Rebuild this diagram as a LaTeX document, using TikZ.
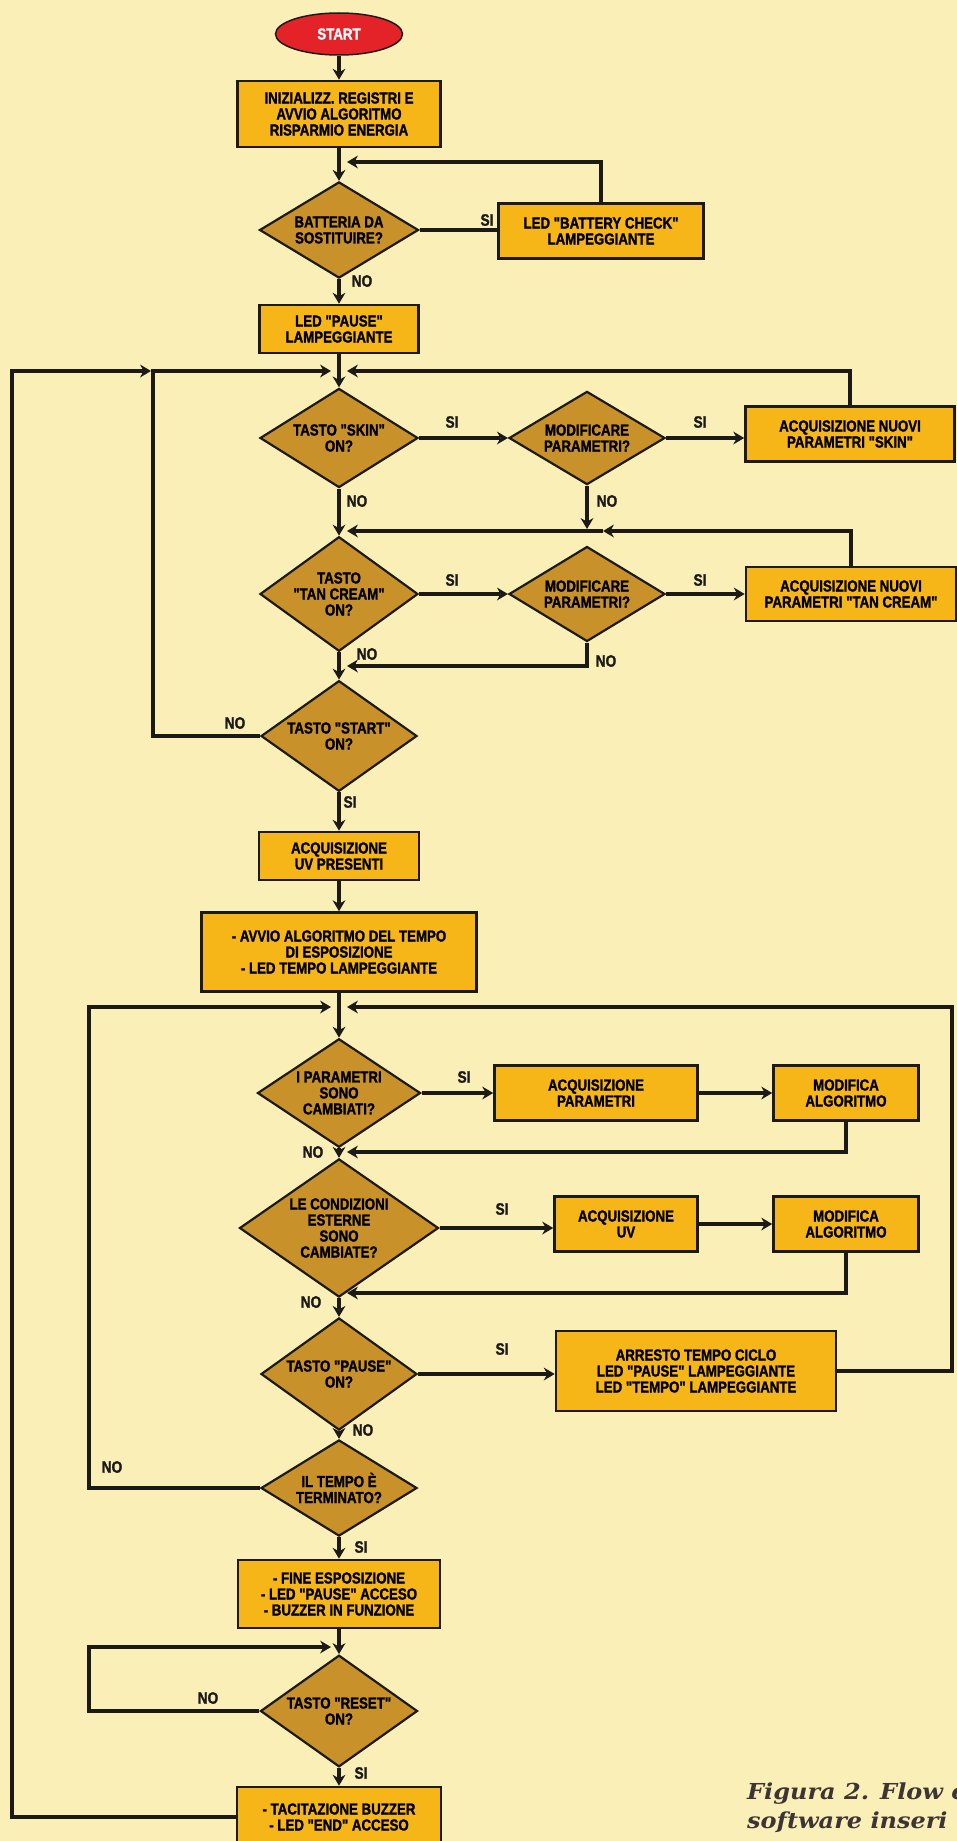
\documentclass[tikz,border=0pt]{standalone}
\usepackage{fontspec}
\newfontfamily\flowfont{Liberation Sans}[UprightFont={* Bold}, FakeStretch=0.83, FakeBold=1.4]
\newfontfamily\captionfont{DejaVu Serif}[FakeStretch=1.09]
\usepackage{tikz}
\usetikzlibrary{shapes,arrows.meta}
\definecolor{paper}{HTML}{FBEFB8}
\definecolor{boxorange}{HTML}{F7B618}
\definecolor{ochre}{HTML}{C8912A}
\definecolor{startred}{HTML}{E42329}
\definecolor{ink}{HTML}{1C1A17}
\definecolor{captiongray}{HTML}{3D3535}
\newcommand{\boxtext}{\flowfont\fontsize{16}{16}\selectfont}
\newcommand{\yesno}{\flowfont\fontsize{16.5}{16.5}\selectfont}
\tikzstyle{startstop} = [ellipse, draw=ink, line width=1.5pt, fill=startred, text=white, inner sep=0pt, minimum width=127pt, minimum height=42pt, font=\boxtext]
\tikzstyle{process} = [rectangle, draw=ink, line width=2.6pt, fill=boxorange, align=center, inner sep=0pt, font=\boxtext]
\tikzstyle{decision} = [diamond, draw=ink, line width=2.2pt, fill=ochre, align=center, inner sep=-5pt, font=\boxtext]
\tikzstyle{arrow} = [line width=3.8pt, draw=ink, -{Stealth[length=11pt,width=13pt,line width=0pt]}]
\tikzstyle{conn} = [line width=3.8pt, draw=ink]
\tikzstyle{yn} = [inner sep=0pt, font=\yesno, text=ink]

\begin{document}
\begin{tikzpicture}[x=1pt,y=-1pt]
\useasboundingbox (0,0) rectangle (957,1841);
\fill[paper] (0,0) rectangle (957,1841);

% main column
\node[startstop] (start) at (339,34) {START};
\node[process, minimum width=203pt, minimum height=66pt] (init) at (339,114) {INIZIALIZZ. REGISTRI E\\AVVIO ALGORITMO\\RISPARMIO ENERGIA};
\node[decision, minimum width=159pt, minimum height=94pt] (batt) at (339,230) {BATTERIA DA\\SOSTITUIRE?};
\node[process, minimum width=205pt, minimum height=55pt] (battchk) at (601,231) {LED "BATTERY CHECK"\\LAMPEGGIANTE};
\node[process, minimum width=159pt, minimum height=48pt] (ledpause) at (339,329) {LED "PAUSE"\\LAMPEGGIANTE};
\node[decision, minimum width=158pt, minimum height=93pt] (skin) at (339,438) {TASTO "SKIN"\\ON?};
\node[decision, minimum width=156pt, minimum height=93pt] (mod1) at (587,438) {MODIFICARE\\PARAMETRI?};
\node[process, minimum width=209pt, minimum height=55pt] (acqskin) at (850,434) {ACQUISIZIONE NUOVI\\PARAMETRI "SKIN"};
\node[decision, minimum width=158pt, minimum height=95pt] (tan) at (339,594) {TASTO\\"TAN CREAM"\\ON?};
\node[decision, minimum width=156pt, minimum height=95pt] (mod2) at (587,594) {MODIFICARE\\PARAMETRI?};
\node[process, minimum width=210pt, minimum height=54pt] (acqtan) at (851,594) {ACQUISIZIONE NUOVI\\PARAMETRI "TAN CREAM"};
\node[decision, minimum width=156pt, minimum height=94pt] (startq) at (339,736) {TASTO "START"\\ON?};
\node[process, minimum width=160pt, minimum height=48pt] (acquv) at (339,856) {ACQUISIZIONE\\UV PRESENTI};
\node[process, minimum width=275pt, minimum height=79pt] (avvio) at (339,952) {- AVVIO ALGORITMO DEL TEMPO\\DI ESPOSIZIONE\\- LED TEMPO LAMPEGGIANTE};
\node[decision, minimum width=163pt, minimum height=99pt] (par) at (339,1093) {I PARAMETRI\\SONO\\CAMBIATI?};
\node[process, minimum width=203pt, minimum height=55pt] (acqpar) at (596,1093) {ACQUISIZIONE\\PARAMETRI};
\node[process, minimum width=145pt, minimum height=55pt] (modalg1) at (846,1093) {MODIFICA\\ALGORITMO};
\node[decision, minimum width=199pt, minimum height=120pt] (cond) at (339,1228) {LE CONDIZIONI\\ESTERNE\\SONO\\CAMBIATE?};
\node[process, minimum width=143pt, minimum height=55pt] (acquv2) at (626,1224) {ACQUISIZIONE\\UV};
\node[process, minimum width=145pt, minimum height=55pt] (modalg2) at (846,1224) {MODIFICA\\ALGORITMO};
\node[decision, minimum width=156pt, minimum height=94pt] (pause) at (339,1374) {TASTO "PAUSE"\\ON?};
\node[process, minimum width=280pt, minimum height=80pt] (arresto) at (696,1371) {ARRESTO TEMPO CICLO\\LED "PAUSE" LAMPEGGIANTE\\LED "TEMPO" LAMPEGGIANTE};
\node[decision, minimum width=156pt, minimum height=93pt] (tempo) at (339,1488) {IL TEMPO È\\TERMINATO?};
\node[process, minimum width=202pt, minimum height=68pt] (fine) at (339,1594) {- FINE ESPOSIZIONE\\- LED "PAUSE" ACCESO\\- BUZZER IN FUNZIONE};
\node[decision, minimum width=157pt, minimum height=97pt] (reset) at (339,1711) {TASTO "RESET"\\ON?};
\node[process, minimum width=204pt, minimum height=60pt] (tacit) at (339,1817) {- TACITAZIONE BUZZER\\- LED "END" ACCESO};

% junction points
\coordinate (jbatt) at (347,162);
\coordinate (jskin) at (347,371);
\coordinate (jskinl) at (331,371);
\coordinate (outerc) at (12,371);
\coordinate (innerc) at (153,371);
\coordinate (innerl) at (151,371);
\coordinate (jmod1) at (587,529);
\coordinate (jtanmid) at (603,531);
\coordinate (jtan) at (347,531);
\coordinate (jmod2) at (347,666);
\coordinate (jtime) at (347,1007);
\coordinate (jtimel) at (331,1007);
\coordinate (pausec) at (952,1371);
\coordinate (timec) at (89,1007);
\coordinate (jpar) at (347,1152);
\coordinate (jcond) at (347,1293);
\coordinate (jreset) at (331,1647);
\coordinate (resetc) at (89,1647);

% connectors
\draw[arrow] (start) -- (init);
\draw[arrow] (init) -- (batt);
\draw[conn] (batt.east) -- (batt.east -| battchk.west);
\draw[arrow] (battchk.north) |- (jbatt);
\draw[arrow] (batt) -- (ledpause);
\draw[arrow] (ledpause) -- (skin);
\draw[arrow] (skin) -- (mod1);
\draw[arrow] (mod1.east) -- (mod1.east -| acqskin.west);
\draw[arrow] (acqskin.north) |- (jskin);
\draw[arrow] (skin) -- (tan);
\draw[arrow] (mod1.south) -- (jmod1);
\draw[arrow] (acqtan.north) |- (jtanmid);
\draw[arrow] (jtanmid) -- (jtan);
\draw[arrow] (tan) -- (mod2);
\draw[arrow] (mod2.east) -- (mod2.east -| acqtan.west);
\draw[arrow] (mod2.south) |- (jmod2);
\draw[arrow] (tan) -- (startq);
\draw[arrow] (startq.west) -| (innerc) -- (jskinl);
\draw[arrow] (tacit.west) -| (outerc) -- (innerl);
\draw[arrow] (startq) -- (acquv);
\draw[arrow] (acquv) -- (avvio);
\draw[arrow] (avvio) -- (par);
\draw[arrow] (par.east) -- (par.east -| acqpar.west);
\draw[arrow] (acqpar) -- (modalg1);
\draw[arrow] (modalg1.south) |- (jpar);
\draw[arrow] (par) -- (cond);
\draw[arrow] (cond.east) -- (cond.east -| acquv2.west);
\draw[arrow] (acquv2) -- (modalg2);
\draw[arrow] (modalg2.south) |- (jcond);
\draw[arrow] (cond) -- (pause);
\draw[arrow] (pause.east) -- (pause.east -| arresto.west);
\draw[arrow] (arresto.east) -- (pausec) |- (jtime);
\draw[arrow] (pause) -- (tempo);
\draw[arrow] (tempo.west) -| (timec) -- (jtimel);
\draw[arrow] (tempo) -- (fine);
\draw[arrow] (fine) -- (reset);
\draw[arrow] (reset.west) -| (resetc) -- (jreset);
\draw[arrow] (reset) -- (tacit);

% SI / NO
\node[yn] (si1) at (487,220) {SI};
\node[yn] (no1) at (362,281) {NO};
\node[yn] (si2) at (452,422) {SI};
\node[yn] (si3) at (700,422) {SI};
\node[yn] (no2) at (357,501) {NO};
\node[yn] (no3) at (607,501) {NO};
\node[yn] (si4) at (452,580) {SI};
\node[yn] (si5) at (700,580) {SI};
\node[yn] (no4) at (367,654) {NO};
\node[yn] (no5) at (606,661) {NO};
\node[yn] (no6) at (235,723) {NO};
\node[yn] (si6) at (350,802) {SI};
\node[yn] (si7) at (464,1077) {SI};
\node[yn] (no7) at (313,1152) {NO};
\node[yn] (si8) at (502,1209) {SI};
\node[yn] (no8) at (311,1302) {NO};
\node[yn] (si9) at (502,1349) {SI};
\node[yn] (no9) at (363,1430) {NO};
\node[yn] (no10) at (112,1467) {NO};
\node[yn] (si10) at (361,1547) {SI};
\node[yn] (no11) at (208,1698) {NO};
\node[yn] (si11) at (361,1773) {SI};

% caption
\node[anchor=west, align=left, inner sep=0pt, text=captiongray, font=\captionfont\bfseries\itshape\fontsize{22}{29}\selectfont] (caption) at (747,1808) {Figura 2. Flow c\\software inseri};
\end{tikzpicture}
\end{document}
